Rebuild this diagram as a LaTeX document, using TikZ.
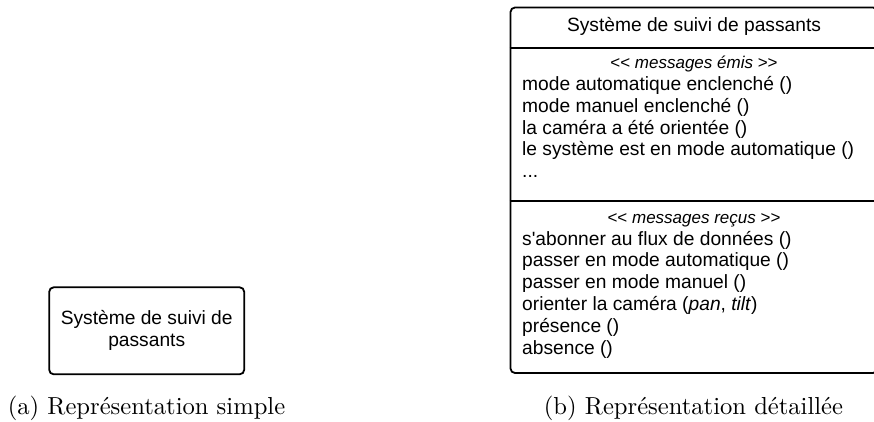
\documentclass[tikz,border=0pt]{standalone}
\usepackage{fontspec}
\newfontfamily\arialf[Ligatures=TeXOff]{Liberation Sans}
\tikzset{
  umlbox/.style={draw, line width=1.8pt, rounded corners=4.5pt, inner sep=0pt},
  txt/.style={font=\arialf\fontsize{19.2}{22}\selectfont, inner sep=0pt},
  stereo/.style={font=\arialf\fontsize{17}{20}\selectfont, inner sep=0pt, anchor=base},
  member/.style={txt, anchor=base west},
  capt/.style={font=\fontsize{10}{12}\selectfont, scale=2.46, anchor=base, inner sep=0pt},
  sepline/.style={line width=1.8pt},
}
\begin{document}
\begin{tikzpicture}[x=1pt,y=-1pt]
\useasboundingbox (0,0) rectangle (874,421);
% (a) simple
\node[umlbox, txt, align=center, minimum width=195pt, minimum height=87pt] (simple) at (146.7,330.8) {Système de suivi de\\passants};
\node[capt] (capa) at (146.5,414) {(a) Représentation simple};
% (b) detailed
\node[umlbox, minimum width=367pt, minimum height=365.5pt] (detail) at (694,190.25) {};
\coordinate (s1) at (0,47.7);
\coordinate (s2) at (0,201);
\draw[sepline] (detail.west |- s1) -- (detail.east |- s1);
\draw[sepline] (detail.west |- s2) -- (detail.east |- s2);
\node[txt, anchor=base] (title) at (694,31.5) {Système de suivi de passants};
\node[stereo] (st1) at (694,68.5) {<< \textit{messages émis} >>};
\node[member] (e1) at (522,90.5) {mode automatique enclenché ()};
\node[member] (e2) at (522,112.3) {mode manuel enclenché ()};
\node[member] (e3) at (522,134.1) {la caméra a été orientée ()};
\node[member] (e4) at (522,155.9) {le système est en mode automatique ()};
\node[member] (e5) at (522,177.7) {...};
\node[stereo] (st2) at (694,223) {<< \textit{messages reçus} >>};
\node[member] (r1) at (522,245) {s'abonner au flux de données ()};
\node[member] (r2) at (522,266.8) {passer en mode automatique ()};
\node[member] (r3) at (522,288.6) {passer en mode manuel ()};
\node[member] (r4) at (522,310.4) {orienter la caméra (\textit{pan}, \textit{tilt})};
\node[member] (r5) at (522,332.2) {présence ()};
\node[member] (r6) at (522,354) {absence ()};
\node[capt] (capb) at (693.5,414) {(b) Représentation détaillée};
\end{tikzpicture}
\end{document}
